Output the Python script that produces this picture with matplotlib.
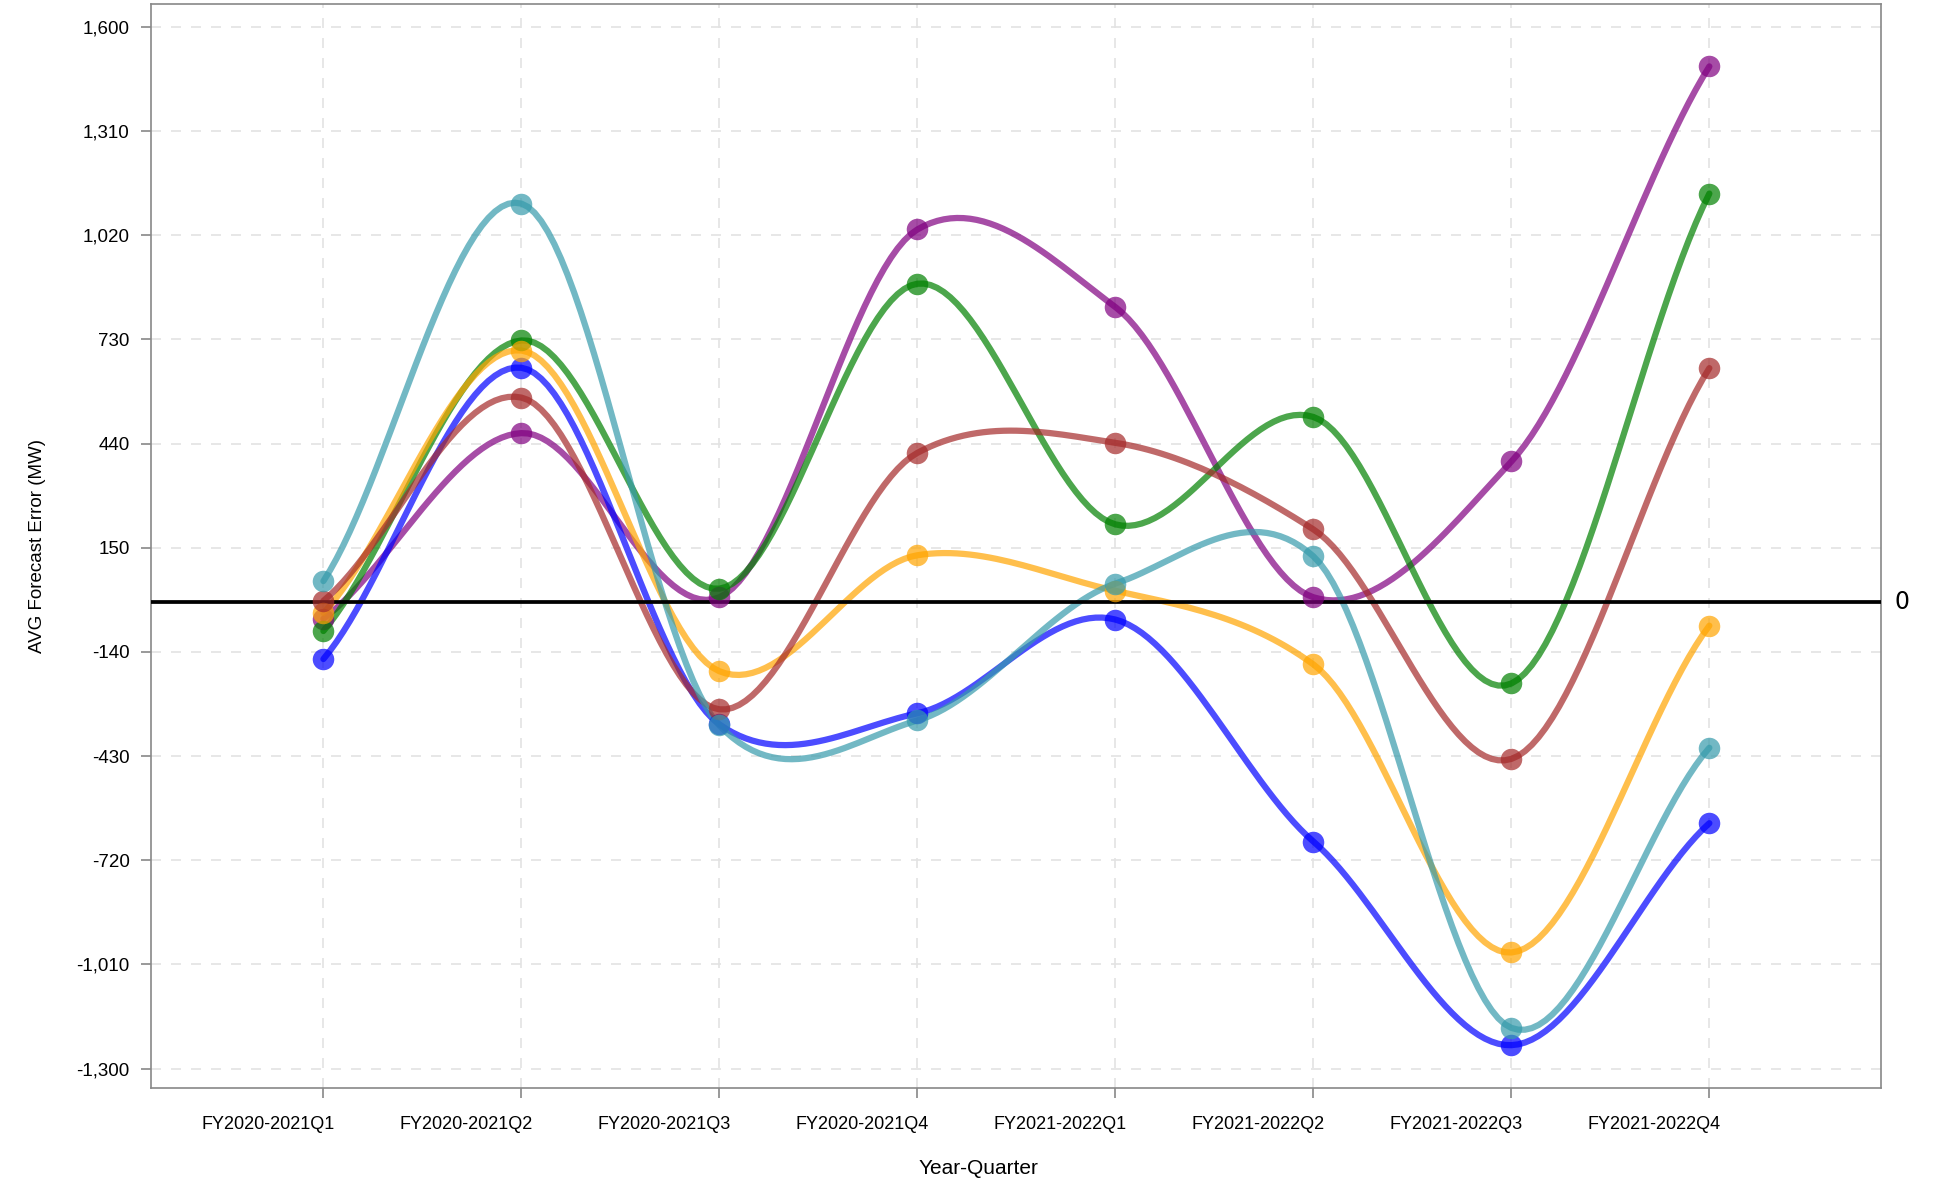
import numpy as np
import matplotlib
matplotlib.use("Agg")
from matplotlib import pyplot as plt


quarters = ['FY2020-2021Q1', 'FY2020-2021Q2', 'FY2020-2021Q3', 'FY2020-2021Q4',
            'FY2021-2022Q1', 'FY2021-2022Q2', 'FY2021-2022Q3', 'FY2021-2022Q4']

teal_vals = [57, 1108, -345, -331, 50, 126, -1187, -407]
blue_vals = [-160, 651, -342, -311, -50, -668, -1235, -617]
green_vals = [-82, 727, 36, 885, 215, 514, -228, 1136]
orange_vals = [-32, 699, -194, 129, 30, -175, -977, -67]
brown_vals = [2, 568, -300, 414, 442, 201, -438, 650]
purple_vals = [-48, 469, 12, 1036, 820, 12, 390, 1490]

# drawing order: later ones sit on top where points overlap
series = [
    (purple_vals, '#800080'),
    (blue_vals, '#0000ff'),
    (green_vals, '#008000'),
    (orange_vals, '#ffa500'),
    (brown_vals, '#a52a2a'),
    (teal_vals, '#369bab'),
]

y_ticks = [1600, 1310, 1020, 730, 440, 150, -140, -430, -720, -1010, -1300]

plt.rcParams['font.family'] = ['Liberation Sans', 'DejaVu Sans']
narrow = ['Liberation Sans Narrow', 'Liberation Sans', 'DejaVu Sans']


# smooth curve through the points (catmull-rom style, a bit tighter)
def smooth(xs, ys, tension=0.8, n=30):
    xs = np.asarray(xs, dtype=float)
    ys = np.asarray(ys, dtype=float)
    m = np.zeros(len(ys))
    m[1:-1] = (ys[2:] - ys[:-2]) / 2 * tension
    m[0] = (ys[1] - ys[0]) * tension
    m[-1] = (ys[-1] - ys[-2]) * tension
    out_x, out_y = [], []
    for i in range(len(ys) - 1):
        t = np.linspace(0, 1, n, endpoint=(i == len(ys) - 2))
        h00 = 2 * t**3 - 3 * t**2 + 1
        h10 = t**3 - 2 * t**2 + t
        h01 = -2 * t**3 + 3 * t**2
        h11 = t**3 - t**2
        out_x.extend(xs[i] + t * (xs[i + 1] - xs[i]))
        out_y.extend(h00 * ys[i] + h10 * m[i] + h01 * ys[i + 1] + h11 * m[i + 1])
    return np.array(out_x), np.array(out_y)


fig = plt.figure(figsize=(19.35, 11.82), dpi=100)
ax = fig.add_axes([0.0778, 0.0793, 0.8942, 0.9177])

x = np.arange(len(quarters))
for vals, col in series:
    sx, sy = smooth(x, vals)
    ax.plot(sx, sy, color=col, alpha=0.7, lw=4.5, solid_capstyle='round', zorder=3)
    ax.plot(x, vals, 'o', color=col, alpha=0.7, ms=15.5, mew=0, zorder=4)

ax.axhline(0, color='black', lw=2.7, zorder=3.5)
ax.text(1.008, 0, '0', transform=ax.get_yaxis_transform(), fontsize=17,
        family='DejaVu Sans', va='center', ha='left')

ax.set_xlim(-0.873, 7.866)
ax.set_ylim(-1355, 1665)
ax.set_xticks(x)
ax.set_xticklabels([])
# labels sit a little left of their tick, as in the original
for xi, q in zip(x, quarters):
    ax.text(xi + 0.055, -0.033, q, transform=ax.get_xaxis_transform(),
            ha='right', va='center', fontsize=13, family=narrow)
ax.set_yticks(y_ticks)
ax.set_yticklabels([f'{v:,}' for v in y_ticks], fontsize=13.5)

ax.grid(True, color='#e3e3e3', ls=(0, (6, 6)), lw=1.2)
ax.set_axisbelow(True)
for s in ax.spines.values():
    s.set_color('#888888')
    s.set_linewidth(1.2)
ax.tick_params(axis='both', color='#888888', length=7, width=1.2, pad=8)

ax.set_xlabel('Year-Quarter', fontsize=15, family=narrow)
ax.xaxis.set_label_coords(0.4786, -0.065)
ax.set_ylabel('AVG Forecast Error (MW)', fontsize=13.5, family=narrow, labelpad=22)

fig.savefig('out.png', dpi=100)
